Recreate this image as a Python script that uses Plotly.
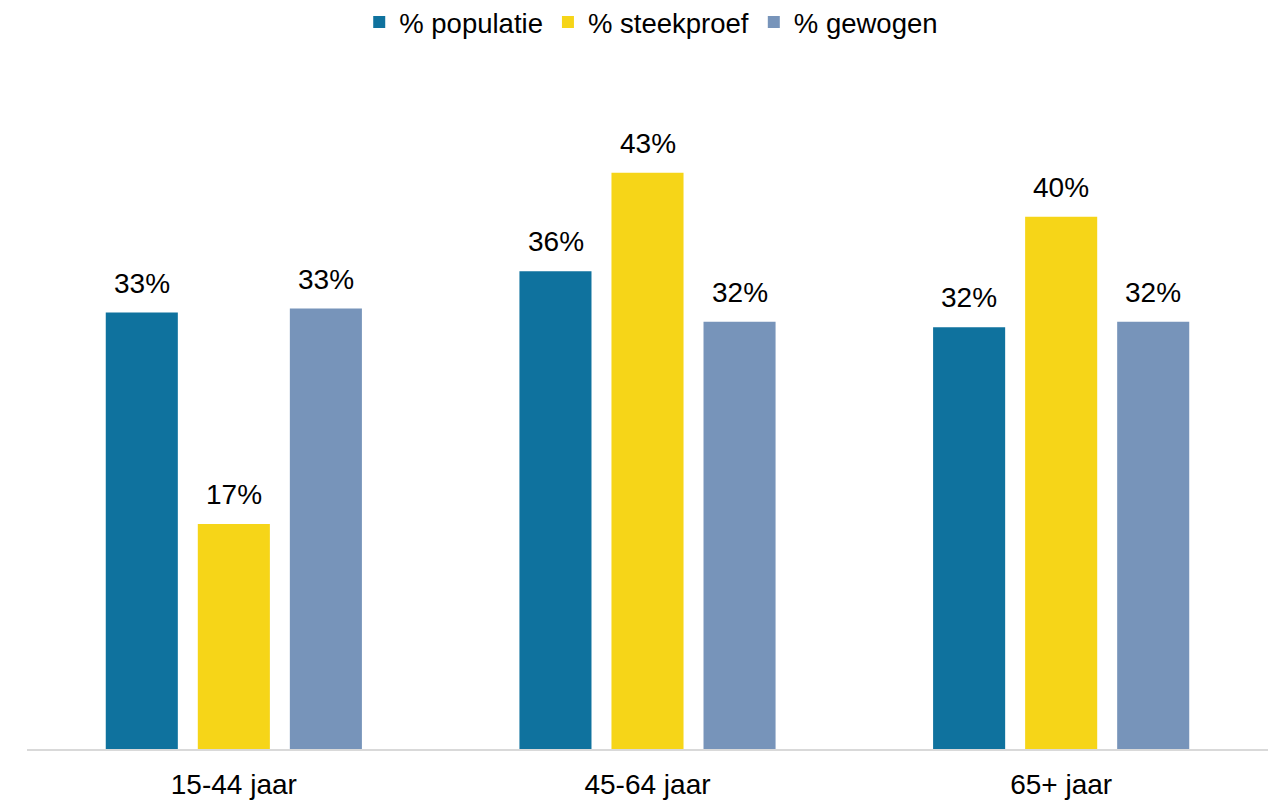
import plotly.graph_objects as go

categories = ["15-44 jaar", "45-64 jaar", "65+ jaar"]
series_names = ["% populatie", "% steekproef", "% gewogen"]
populatie = [32.8, 35.9, 31.7]
steekproef = [16.9, 43.3, 40.0]
gewogen = [33.1, 32.1, 32.1]
label_pop = ["33%", "36%", "32%"]
label_stk = ["17%", "43%", "40%"]
label_gew = ["33%", "32%", "32%"]

colors = ["#0F729E", "#F6D518", "#7794BA"]
values = [populatie, steekproef, gewogen]
labels = [label_pop, label_stk, label_gew]

FONT = "Liberation Sans, Arial, sans-serif"

fig = go.Figure()
for name, vals, col in zip(series_names, values, colors):
    fig.add_trace(go.Bar(x=categories, y=vals, name=name, marker_color=col,
                         marker_line_width=0, hoverinfo="skip"))

slot = 92
for i, (vals, labs) in enumerate(zip(values, labels)):
    for c, v, t in zip(categories, vals, labs):
        fig.add_annotation(x=c, y=v, text=t, showarrow=False, yanchor="bottom",
                           xshift=(i - 1) * slot, yshift=12,
                           font=dict(family=FONT, size=28, color="#000000"))

fig.update_layout(
    width=1268, height=800,
    margin=dict(l=27, r=0, t=57, b=51),
    plot_bgcolor="white", paper_bgcolor="white",
    barmode="group", bargap=0.3325, bargroupgap=0.217,
    font=dict(family=FONT, color="#000000"),
    legend=dict(orientation="h", x=0.503, xanchor="center", y=0.9725, yanchor="middle",
                yref="container", font=dict(family=FONT, size=27.5),
                itemwidth=30, traceorder="normal"),
    xaxis=dict(showline=True, linecolor="#D9D9D9", linewidth=2, showgrid=False,
               ticks="", tickfont=dict(family=FONT, size=28), fixedrange=True,
               ticklabelstandoff=9, automargin=False),
    yaxis=dict(range=[0, 52], visible=False, showgrid=False, zeroline=False,
               automargin=False),
    showlegend=True,
)

fig.write_html("out.html", config={"displayModeBar": False},
               post_script="document.body.style.margin='0';document.body.style.overflow='hidden';")
